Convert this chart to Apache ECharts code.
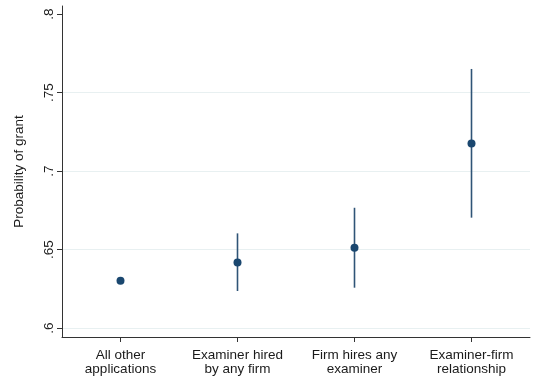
<!DOCTYPE html>
<html>
<head>
<meta charset="utf-8">
<script src="https://cdn.jsdelivr.net/npm/echarts@6/dist/echarts.min.js"></script>
<style>
html,body{margin:0;padding:0;background:#fff;}
#chart{width:539px;height:382px;}
</style>
</head>
<body>
<div id="chart"></div>
<script>
var categories = ["All other\napplications", "Examiner hired\nby any firm", "Firm hires any\nexaminer", "Examiner-firm\nrelationship"];
var estimates = [0.6301, 0.6418, 0.6511, 0.7176];
var lowerCI = [0.6301, 0.6236, 0.6257, 0.6703];
var upperCI = [0.6301, 0.6603, 0.6766, 0.7650];
var yTicks = [0.6, 0.65, 0.7, 0.75, 0.8];
var gridValues = [0.6, 0.65, 0.7, 0.75];

var navy = '#1a476f';
var font = 'Liberation Sans, Arial, sans-serif';

var chart = echarts.init(document.getElementById('chart'), null, {renderer: 'canvas'});
var ciData = categories.map(function (c, i) { return [i, lowerCI[i], upperCI[i]]; });
var ptData = categories.map(function (c, i) { return [i, estimates[i]]; });

chart.setOption({
  animation: false,
  backgroundColor: '#fff',
  grid: {left: 62, right: 9, top: 6, bottom: 45, containLabel: false},
  xAxis: {
    type: 'category',
    data: categories,
    boundaryGap: true,
    axisLine: {show: true, lineStyle: {color: '#333', width: 1}},
    axisTick: {show: true, alignWithLabel: true, length: 5, lineStyle: {color: '#333'}},
    axisLabel: {color: '#1a1a1a', fontSize: 13.5, fontFamily: font, lineHeight: 14, margin: 11, interval: 0},
    splitLine: {show: false}
  },
  yAxis: {
    type: 'value',
    min: 0.5943,
    max: 0.8051,
    name: 'Probability of grant',
    nameLocation: 'middle',
    nameRotate: 90,
    nameGap: 36,
    nameTextStyle: {color: '#1a1a1a', fontSize: 13.5, fontFamily: font},
    axisLine: {show: true, lineStyle: {color: '#333', width: 1}},
    axisTick: {show: true, length: 5, lineStyle: {color: '#333'}, customValues: yTicks},
    axisLabel: {
      color: '#1a1a1a', fontSize: 13.5, fontFamily: font, rotate: 90, margin: 6,
      customValues: yTicks,
      formatter: function (v) { return String(+v.toFixed(2)).replace(/^0/, ''); }
    },
    splitLine: {show: false}
  },
  series: [
    {
      type: 'custom',
      data: ciData,
      z: 2,
      renderItem: function (params, api) {
        var x = api.value(0);
        var lo = api.coord([x, api.value(1)]);
        var hi = api.coord([x, api.value(2)]);
        return {
          type: 'line',
          shape: {x1: lo[0], y1: lo[1], x2: hi[0], y2: hi[1]},
          style: {stroke: '#2f5477', lineWidth: 1.6}
        };
      },
      markLine: {
        silent: true,
        symbol: ['none', 'none'],
        label: {show: false},
        lineStyle: {color: '#e8f0f1', width: 1, type: 'solid'},
        z: 0,
        data: gridValues.map(function (v) { return {yAxis: v}; })
      }
    },
    {
      type: 'scatter',
      data: ptData,
      symbol: 'circle',
      symbolSize: 8,
      z: 3,
      itemStyle: {color: navy, opacity: 1}
    }
  ]
});
</script>
</body>
</html>
